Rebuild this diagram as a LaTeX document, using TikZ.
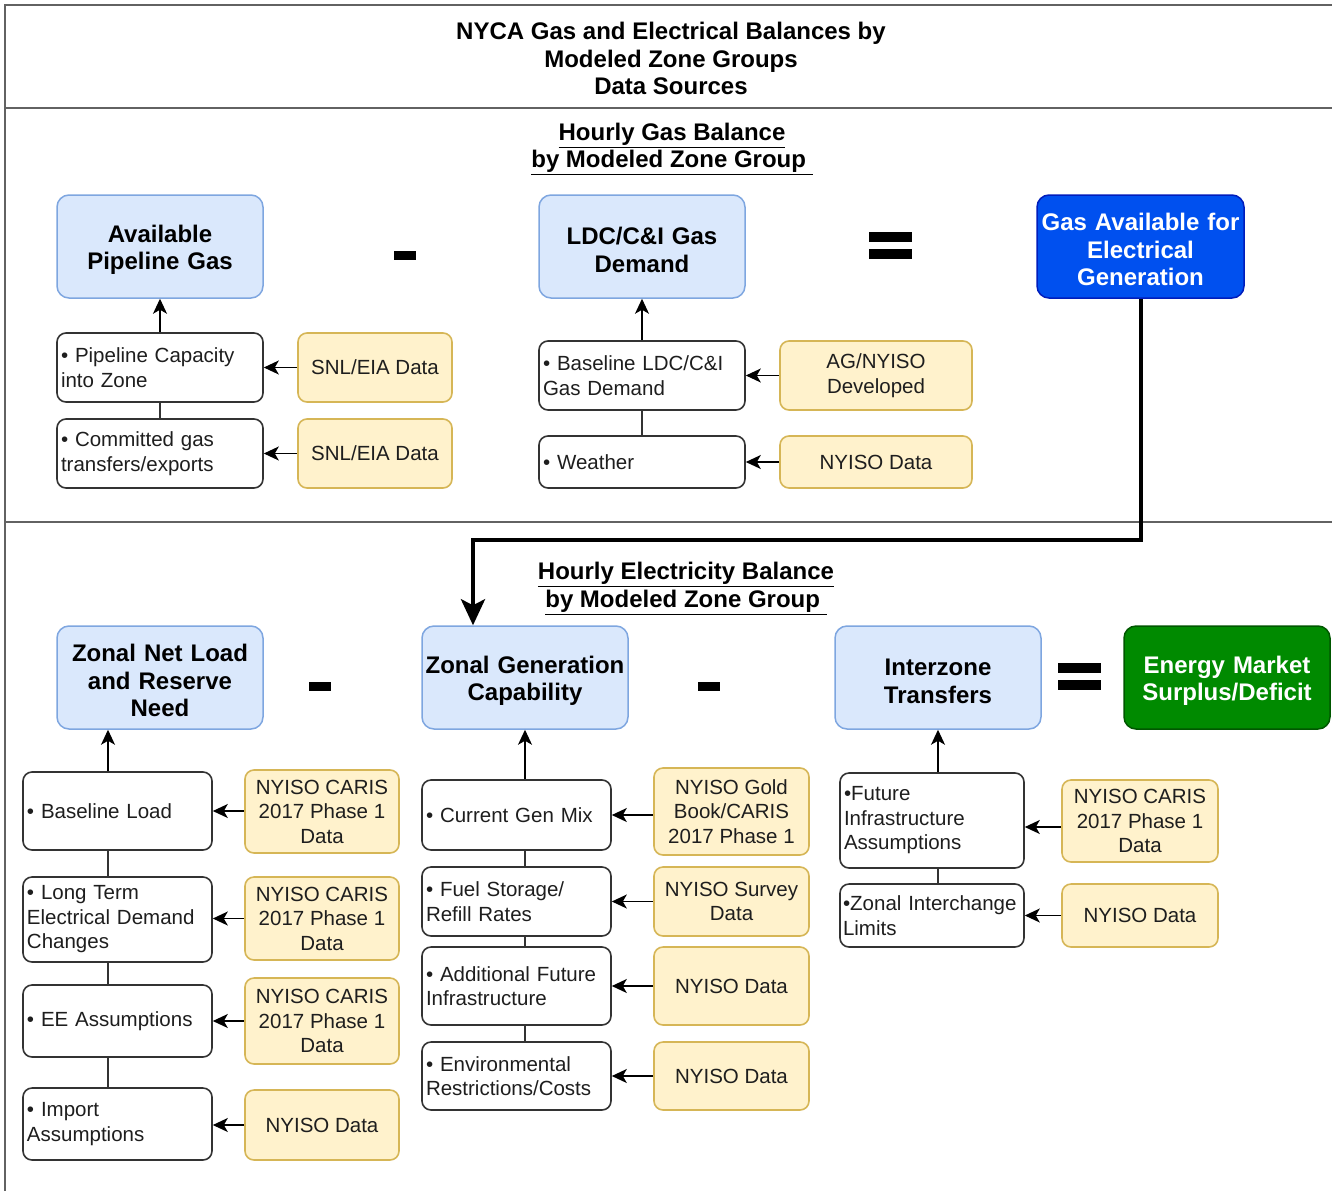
\documentclass[tikz,border=0pt]{standalone}
\usepackage{fontspec}
\setmainfont{Liberation Sans}
\usetikzlibrary{arrows.meta}
\definecolor{frameC}{HTML}{626262}
\definecolor{blueF}{HTML}{DAE8FC}
\definecolor{blueD}{HTML}{7EA6E0}
\definecolor{dblueF}{HTML}{0050EF}
\definecolor{dblueD}{HTML}{001DBC}
\definecolor{greenF}{HTML}{008A00}
\definecolor{greenD}{HTML}{005700}
\definecolor{yelF}{HTML}{FFF2CC}
\definecolor{yelD}{HTML}{D6B656}
\definecolor{boxD}{HTML}{333333}
\definecolor{txtC}{HTML}{1E1E1E}
\tikzset{
  frameline/.style={line width=2.2pt, draw=frameC},
  hdrtext/.style={align=center, inner sep=0pt, font=\fontsize{24}{27.5}\selectfont\bfseries},
  secttext/.style={align=center, inner sep=0pt, font=\fontsize{24}{27.5}\selectfont\bfseries},
  bigbox/.style={rounded corners=12pt, line width=1.5pt, align=center, inner xsep=1pt,
    text width=204pt, minimum width=206pt, minimum height=103pt, text height=24pt,
    font=\fontsize{24}{27.5}\selectfont\bfseries},
  lightbox/.style={bigbox, fill=blueF, draw=blueD},
  darkbluebox/.style={bigbox, fill=dblueF, draw=dblueD, text=white},
  greenbox/.style={bigbox, fill=greenF, draw=greenD, text=white},
  srcbox/.style={rounded corners=9pt, line width=1.6pt, draw=boxD, fill=white, align=left,
    inner xsep=4pt, text=txtC, font=\fontsize{20.5}{24.5}\selectfont},
  databox/.style={rounded corners=9pt, line width=1.6pt, draw=yelD, fill=yelF, align=center,
    inner xsep=2pt, text=txtC, font=\fontsize{20.5}{24.5}\selectfont},
  arr/.style={line width=1.5pt, draw=black, -{Stealth[length=15pt,width=14pt,inset=4pt]}},
  plainln/.style={line width=1.5pt, draw=boxD},
  bigarr/.style={line width=4pt, draw=black, -{Stealth[length=26pt,width=24pt,inset=6pt]}},
}
\begin{document}
\begin{tikzpicture}[x=1pt,y=-1pt]
\useasboundingbox (0,0) rectangle (1332,1191);
\fill[white] (0,0) rectangle (1332,1191);

% frame
\draw[frameline] (5,1191) -- (5,5) -- (1332,5);
\draw[frameline] (5,108) -- (1332,108);
\draw[frameline] (5,522) -- (1332,522);

% header
\node[hdrtext] (hdr) at (671,58.5) {NYCA Gas and Electrical Balances by\\Modeled Zone Groups\\Data Sources};

% gas section
\node[secttext] (sgas) at (672,149) {\underline{Hourly Gas Balance}\\\underline{by Modeled Zone Group\ }};

\node[lightbox] (apg) at (160,246.5) {Available\\Pipeline Gas};
\node[lightbox] (ldc) at (642,246.5) {LDC/C\&I Gas\\Demand};
\node[darkbluebox, minimum width=207pt] (gae) at (1140.5,246.5) {Gas Available for\\Electrical\\Generation};

\fill (394,251) rectangle (416,260);
\fill (869,232) rectangle (912,242);
\fill (869,249) rectangle (912,259);

\node[srcbox, text width=198pt, minimum width=206pt, minimum height=69pt] (pc) at (160,367.5) {\textbullet\ Pipeline Capacity\\into Zone};
\node[srcbox, text width=198pt, minimum width=206pt, minimum height=69pt] (cg) at (160,453.5) {\textbullet\ Committed gas\\transfers/exports};
\node[databox, minimum width=154pt, minimum height=69pt] (snla) at (375,367.5) {SNL/EIA Data};
\node[databox, minimum width=154pt, minimum height=69pt] (snlb) at (375,453.5) {SNL/EIA Data};

\node[srcbox, text width=198pt, minimum width=206pt, minimum height=69pt] (bl) at (642,375.5) {\textbullet\ Baseline LDC/C\&I\\Gas Demand};
\node[srcbox, text width=198pt, minimum width=206pt, minimum height=52pt] (wea) at (642,462) {\textbullet\ Weather};
\node[databox, minimum width=192pt, minimum height=69pt] (agn) at (876,375.5) {AG/NYISO\\Developed};
\node[databox, minimum width=192pt, minimum height=52pt] (nda) at (876,462) {NYISO Data};

\draw[arr] (pc.north) -- (apg.south);
\draw[plainln] (pc.south) -- (cg.north);
\draw[arr] (snla.west) -- (pc.east);
\draw[arr] (snlb.west) -- (cg.east);
\draw[arr] (bl.north) -- (ldc.south);
\draw[plainln] (bl.south) -- (wea.north);
\draw[arr] (agn.west) -- (bl.east);
\draw[arr] (nda.west) -- (wea.east);

% electricity section
\node[secttext] (selec) at (686,588.5) {\underline{Hourly Electricity Balance}\\\underline{by Modeled Zone Group\ }};

\node[lightbox] (znl) at (160,677.5) {Zonal Net Load\\and Reserve\\Need};
\node[lightbox] (zgc) at (525,677.5) {Zonal Generation\\Capability};
\node[lightbox] (izt) at (938,677.5) {Interzone\\Transfers};
\node[greenbox] (ems) at (1227,677.5) {Energy Market\\Surplus/Deficit};

\fill (309,682) rectangle (331,691);
\fill (698,682) rectangle (720,691);
\fill (1058,663) rectangle (1101,673);
\fill (1058,680) rectangle (1101,690);

% gas to electricity connector
\coordinate (bend) at (473,540);
\draw[bigarr] (gae.south) |- (bend) -- (bend |- zgc.north);

% column 1
\node[srcbox, text width=181pt, minimum width=189pt, minimum height=78pt] (bload) at (117.5,811) {\textbullet\ Baseline Load};
\node[srcbox, text width=181pt, minimum width=189pt, minimum height=85pt] (ltd) at (117.5,919.5) {\textbullet\ Long Term\\Electrical Demand\\Changes};
\node[srcbox, text width=181pt, minimum width=189pt, minimum height=72pt] (eea) at (117.5,1021) {\textbullet\ EE Assumptions};
\node[srcbox, text width=181pt, minimum width=189pt, minimum height=72pt] (imp) at (117.5,1124) {\textbullet\ Import\\Assumptions};
\node[databox, minimum width=154pt, minimum height=83pt] (ya) at (322,811.5) {NYISO CARIS\\2017 Phase 1\\Data};
\node[databox, minimum width=154pt, minimum height=83pt] (yb) at (322,918.5) {NYISO CARIS\\2017 Phase 1\\Data};
\node[databox, minimum width=154pt, minimum height=86pt] (yc) at (322,1021) {NYISO CARIS\\2017 Phase 1\\Data};
\node[databox, minimum width=154pt, minimum height=70pt] (yd) at (322,1125) {NYISO Data};

\coordinate (cx) at (108,0);
\draw[arr] (bload.north -| cx) -- (cx |- znl.south);
\draw[plainln] (bload.south -| cx) -- (cx |- ltd.north);
\draw[plainln] (ltd.south -| cx) -- (cx |- eea.north);
\draw[plainln] (eea.south -| cx) -- (cx |- imp.north);
\draw[arr] (ya.west |- bload.east) -- (bload.east);
\draw[arr] (yb.west) -- (yb.west -| ltd.east);
\draw[arr] (yc.west) -- (yc.west -| eea.east);
\draw[arr] (yd.west) -- (yd.west -| imp.east);

% column 2
\node[srcbox, text width=181pt, minimum width=189pt, minimum height=70pt] (cgm) at (516.5,815) {\textbullet\ Current Gen Mix};
\node[srcbox, text width=181pt, minimum width=189pt, minimum height=69pt] (fsr) at (516.5,901.5) {\textbullet\ Fuel Storage/\\Refill Rates};
\node[srcbox, text width=181pt, minimum width=189pt, minimum height=78pt] (afi) at (516.5,986) {\textbullet\ Additional Future\\Infrastructure};
\node[srcbox, text width=181pt, minimum width=189pt, minimum height=68pt] (erc) at (516.5,1076) {\textbullet\ Environmental\\Restrictions/Costs};
\node[databox, minimum width=155pt, minimum height=87pt] (gold) at (731.5,811.5) {NYISO Gold\\Book/CARIS\\2017 Phase 1};
\node[databox, minimum width=155pt, minimum height=69pt] (surv) at (731.5,901.5) {NYISO Survey\\Data};
\node[databox, minimum width=155pt, minimum height=78pt] (ndb) at (731.5,986) {NYISO Data};
\node[databox, minimum width=155pt, minimum height=68pt] (ndc) at (731.5,1076) {NYISO Data};

\draw[arr] (cgm.north -| zgc.south) -- (zgc.south);
\draw[plainln] (cgm.south -| zgc.south) -- (zgc.south |- fsr.north);
\draw[plainln] (fsr.south -| zgc.south) -- (zgc.south |- afi.north);
\draw[plainln] (afi.south -| zgc.south) -- (zgc.south |- erc.north);
\draw[arr] (gold.west |- cgm.east) -- (cgm.east);
\draw[arr] (surv.west) -- (fsr.east);
\draw[arr] (ndb.west) -- (afi.east);
\draw[arr] (ndc.west) -- (erc.east);

% column 3
\node[srcbox, text width=176pt, minimum width=184pt, minimum height=95pt, inner xsep=3pt] (fia) at (932,820.5) {\textbullet Future\\Infrastructure\\Assumptions};
\node[srcbox, text width=178pt, minimum width=184pt, minimum height=63pt, inner xsep=3pt] (zil) at (932,915.5) {\textbullet Zonal Interchange\\Limits};
\node[databox, minimum width=156pt, minimum height=82pt] (ye) at (1140,821) {NYISO CARIS\\2017 Phase 1\\Data};
\node[databox, minimum width=156pt, minimum height=63pt] (yf) at (1140,915.5) {NYISO Data};

\draw[arr] (fia.north -| izt.south) -- (izt.south);
\draw[plainln] (fia.south -| izt.south) -- (izt.south |- zil.north);
\draw[arr] ([yshift=-6pt]ye.west) -- ([yshift=-6pt]ye.west -| fia.east);
\draw[arr] (yf.west) -- (zil.east);
\end{tikzpicture}
\end{document}
